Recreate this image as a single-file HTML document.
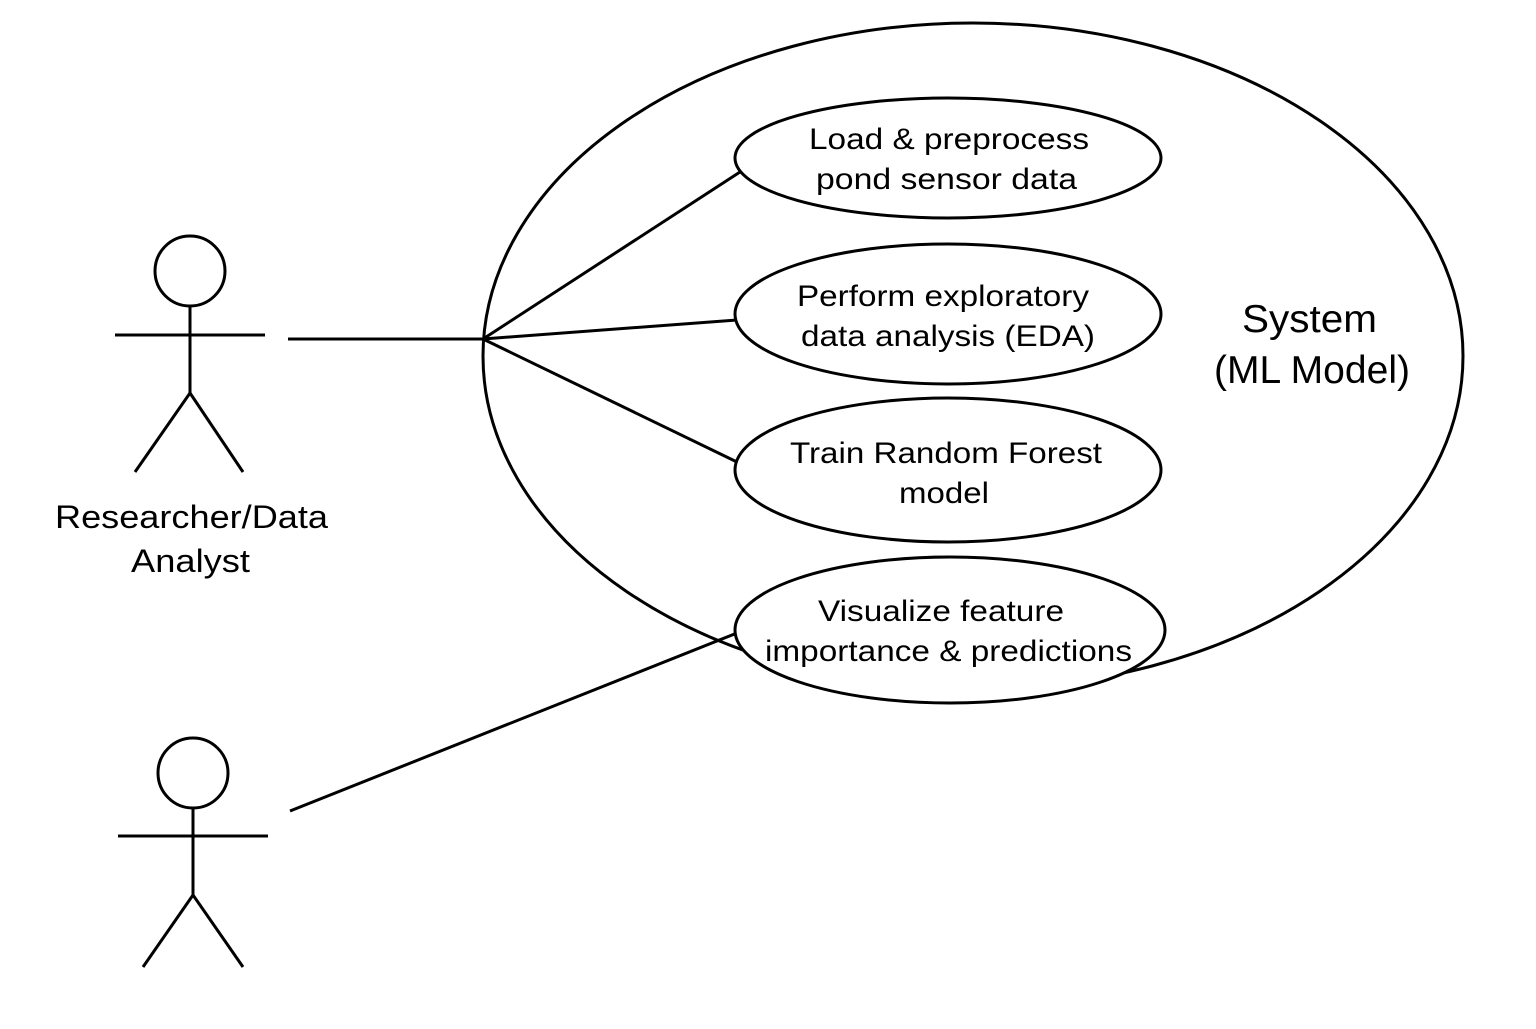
<!DOCTYPE html>
<html><head><meta charset="utf-8"><style>
html,body{margin:0;padding:0;background:#fff;}
svg text{font-family:"Liberation Sans",Helvetica,Arial,sans-serif;fill:#000;}
</style></head><body>
<svg width="1536" height="1024" viewBox="0 0 1536 1024" xmlns="http://www.w3.org/2000/svg">
<g fill="none" stroke="#000" stroke-width="3">
<ellipse cx="973" cy="356" rx="490" ry="333"/>
<line x1="288" y1="339" x2="483" y2="339"/>
<line x1="483" y1="339" x2="740" y2="172"/>
<line x1="483" y1="339" x2="737" y2="320"/>
<line x1="483" y1="339" x2="737" y2="462"/>
<line x1="290" y1="811" x2="737" y2="633"/>
<ellipse cx="948" cy="158" rx="213" ry="60" fill="#fff"/>
<ellipse cx="948" cy="314" rx="213" ry="70" fill="#fff"/>
<ellipse cx="948" cy="470" rx="213" ry="72" fill="#fff"/>
<ellipse cx="950" cy="630" rx="215" ry="73" fill="#fff"/>
<circle cx="190" cy="271" r="35"/>
<line x1="115" y1="335" x2="265" y2="335"/>
<line x1="190" y1="306" x2="190" y2="393"/>
<line x1="190" y1="393" x2="135" y2="472"/>
<line x1="190" y1="393" x2="243" y2="472"/>
<circle cx="193" cy="773" r="35"/>
<line x1="118" y1="836" x2="268" y2="836"/>
<line x1="193" y1="808" x2="193" y2="895"/>
<line x1="193" y1="895" x2="143" y2="967"/>
<line x1="193" y1="895" x2="243" y2="967"/>
</g>
<g font-size="30" lengthAdjust="spacingAndGlyphs">
<text x="809" y="149" textLength="280" lengthAdjust="spacingAndGlyphs">Load &amp; preprocess</text>
<text x="816" y="189" textLength="261" lengthAdjust="spacingAndGlyphs">pond sensor data</text>
<text x="797" y="306" textLength="292" lengthAdjust="spacingAndGlyphs">Perform exploratory</text>
<text x="801" y="346" textLength="294" lengthAdjust="spacingAndGlyphs">data analysis (EDA)</text>
<text x="790" y="463" textLength="312" lengthAdjust="spacingAndGlyphs">Train Random Forest</text>
<text x="899" y="503" textLength="90" lengthAdjust="spacingAndGlyphs">model</text>
<text x="818" y="621" textLength="246" lengthAdjust="spacingAndGlyphs">Visualize feature</text>
<text x="765" y="661" textLength="367" lengthAdjust="spacingAndGlyphs">importance &amp; predictions</text>
<text x="55" y="528" font-size="32" textLength="273" lengthAdjust="spacingAndGlyphs">Researcher/Data</text>
<text x="131" y="572" font-size="32" textLength="119" lengthAdjust="spacingAndGlyphs">Analyst</text>
<text x="1242" y="332" font-size="39" textLength="135" lengthAdjust="spacingAndGlyphs">System</text>
<text x="1214" y="383" font-size="39" textLength="196" lengthAdjust="spacingAndGlyphs">(ML Model)</text>
</g>
</svg>
</body></html>
